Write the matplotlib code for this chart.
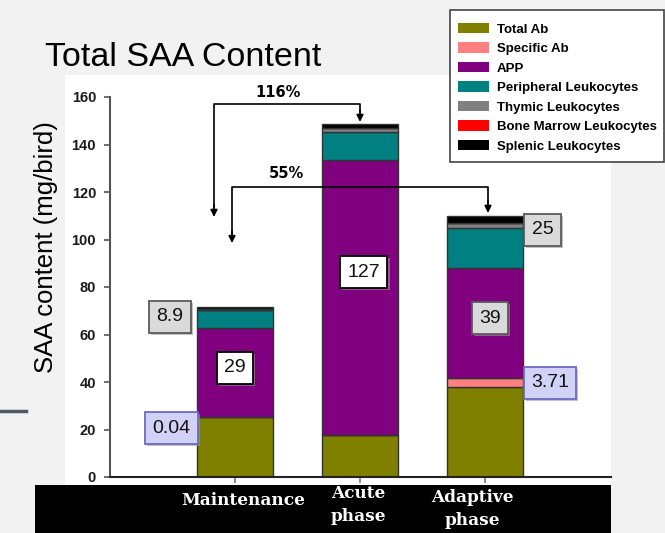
import matplotlib.pyplot as plt
import matplotlib.patheffects as pe
from matplotlib.patches import Rectangle, Patch
import numpy as np

# -------------------------------
# Data
# -------------------------------

phases = ['Maintenance', 'Acute\nphase', 'Adaptive\nphase']

series_names = ['Total Ab', 'Specific Ab', 'APP', 'Peripheral Leukocytes',
                'Thymic Leukocytes', 'Bone Marrow Leukocytes', 'Splenic Leukocytes']
series_colors = ['#808000', '#ff8080', '#800080', '#008080',
                 '#808080', '#ff0000', '#000000']

total_ab = [25.3, 17.7, 37.8]
specific_ab = [0.04, 0.1, 3.71]
app = [37.4, 115.7, 46.6]
peripheral = [7.5, 11.8, 16.7]
thymic = [0.2, 1.5, 2.0]
bone_marrow = [0.1, 0.2, 0.1]
splenic = [1.1, 1.5, 3.0]

# boxed numbers: text, x (category units), y (mg/bird), style
box_text = ['8.9', '0.04', '29', '127', '39', '25', '3.71']
box_x = [-0.52, -0.51, 0.0, 1.03, 2.04, 2.46, 2.52]
box_y = [67.4, 20.6, 45.9, 86.3, 66.9, 104.0, 39.6]
box_kind = ['grey', 'blue', 'white', 'white', 'grey', 'grey', 'blue']

# percent increase brackets
increase_labels = ['116%', '55%']

# -------------------------------
# Figure
# -------------------------------

W, H = 665, 533
fig = plt.figure(figsize=(W / 100, H / 100), dpi=100, facecolor='#f2f2f2')

# slide background pieces (pixel coords -> figure fraction)
def fx(px):
    return px / W

def fy(py):
    return 1 - py / H

fig.patches.append(Rectangle((fx(65), fy(485)), fx(611) - fx(65), fy(75) - fy(485),
                             transform=fig.transFigure, facecolor='white',
                             edgecolor='none', zorder=-2))
fig.patches.append(Rectangle((fx(35), 0), fx(611) - fx(35), fy(485),
                             transform=fig.transFigure, facecolor='black',
                             edgecolor='none', zorder=-2))
fig.lines.append(plt.Line2D([0, fx(26)], [fy(411), fy(411)], transform=fig.transFigure,
                            color='#4f5b66', lw=2.5, zorder=-2))

fig.text(fx(45), fy(66), 'Total SAA Content', family='Liberation Sans',
         fontsize=24.5, va='baseline', ha='left', color='black')
fig.text(fx(46), fy(247), 'SAA content (mg/bird)', family='Liberation Sans',
         fontsize=18.5, rotation=90, va='center', ha='center', color='black')

ax = fig.add_axes([fx(110), fy(477), fx(611) - fx(110), fy(97) - fy(477)])
ax.set_facecolor('none')
ax.set_zorder(2)

x = np.arange(len(phases))
width = 0.608
stack = [total_ab, specific_ab, app, peripheral, thymic, bone_marrow, splenic]
bottom = np.zeros(len(phases))
for vals, color in zip(stack, series_colors):
    ax.bar(x, vals, width, bottom=bottom, color=color, edgecolor='#333333',
           linewidth=1.0, zorder=2)
    bottom += np.array(vals)

ax.set_xlim(-1.0, 3.008)
ax.set_ylim(0, 160)
ax.set_yticks(range(0, 161, 20))
for lab in ax.get_yticklabels():
    lab.set_fontfamily('Liberation Sans')
    lab.set_fontweight('bold')
    lab.set_fontsize(10.5)
    lab.set_color('#1a1a1a')
ax.tick_params(axis='y', length=4, width=1.2, color='#555555', pad=6)
ax.set_xticks(x)
ax.set_xticklabels([])
ax.tick_params(axis='x', length=4, width=1.2, color='#777777', direction='out')

for side in ['top', 'right']:
    ax.spines[side].set_visible(False)
ax.spines['left'].set_color('#555555')
ax.spines['left'].set_linewidth(1.5)
ax.spines['bottom'].set_color('#222222')
ax.spines['bottom'].set_linewidth(1.5)

# category names on the black band
name_x = [0.064, 0.984, 1.896]
name_y = [-9.7, -11.8, -13.5]
for name, tx, ty in zip(phases, name_x, name_y):
    ax.text(tx, ty, name, color='white', family='DejaVu Serif', fontweight='heavy',
            fontsize=12.2, ha='center', va='center', linespacing=1.4, clip_on=False)

# brackets with arrows
brackets = [(-0.168, 1.0, 157.1, 109.5, 149.5), (-0.024, 2.024, 122.1, 98.5, 111.2)]
text_pos = [(0.344, 162.1), (0.408, 128.0)]
for (x0, x1, yh, y0, y1), lab, (tx, ty) in zip(brackets, increase_labels, text_pos):
    ax.plot([x0, x0, x1, x1], [y0 + 4, yh, yh, y1 + 4], color='black', lw=1.2,
            clip_on=False, zorder=3)
    for xa, ya in [(x0, y0), (x1, y1)]:
        ax.annotate('', xy=(xa, ya), xytext=(xa, ya + 5),
                    arrowprops=dict(arrowstyle='-|>', color='black', lw=1.2,
                                    mutation_scale=10, shrinkA=0, shrinkB=0),
                    annotation_clip=False, zorder=3)
    ax.text(tx, ty, lab, family='DejaVu Sans', fontweight='bold', fontsize=10.5,
            ha='center', va='center', clip_on=False)

# boxed values
styles = {
    'grey': dict(facecolor='#dadada', edgecolor='#5a5a5a'),
    'blue': dict(facecolor='#d2d2f6', edgecolor='#6b6bc0'),
    'white': dict(facecolor='white', edgecolor='black'),
}
for t, bx, by, kind in zip(box_text, box_x, box_y, box_kind):
    txt = ax.text(bx, by, t, family='Liberation Sans', fontsize=14, ha='center',
                  va='center', color='#111111', zorder=5, clip_on=False,
                  bbox=dict(boxstyle='square,pad=0.38', linewidth=1.3, **styles[kind]))
    txt.get_bbox_patch().set_path_effects([
        pe.SimplePatchShadow(offset=(1.5, -1.5), shadow_rgbFace='#999999', alpha=0.6),
        pe.Normal()])

# legend: entries without frame, frame drawn as its own box
handles = [Patch(facecolor=c, edgecolor='none') for c in series_colors]
leg = fig.legend(handles, series_names, loc='upper left',
                 bbox_to_anchor=(fx(458), fy(23)), frameon=False,
                 prop=dict(family='Liberation Sans', weight='bold', size=9.5),
                 handlelength=2.35, handleheight=0.8, handletextpad=0.6,
                 labelspacing=0.52, borderpad=0.0, borderaxespad=0)
leg.set_zorder(5)
fig.patches.append(Rectangle((fx(450), fy(162)), fx(664) - fx(450), fy(10) - fy(162),
                             transform=fig.transFigure, facecolor='white',
                             edgecolor='#444444', linewidth=1.2, zorder=4))

fig.savefig('out.png', dpi=100, facecolor=fig.get_facecolor())
